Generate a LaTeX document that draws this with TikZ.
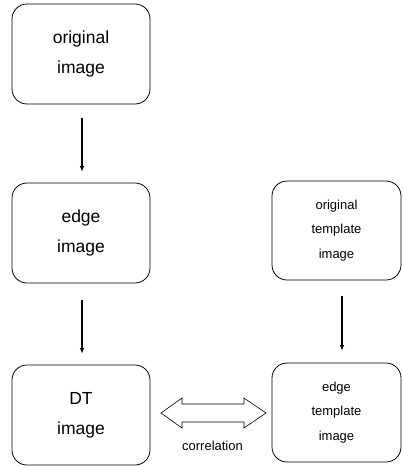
\documentclass[tikz,border=0pt]{standalone}
\usepackage{fontspec}
\setmainfont{Liberation Sans}
\usetikzlibrary{arrows.meta}
\begin{document}
\begin{tikzpicture}[x=1pt,y=-1pt,
  box/.style={draw, line width=0.8pt, rounded corners=15pt, align=center, inner sep=0pt},
  bigbox/.style={box, minimum width=138pt, minimum height=100pt, font=\fontsize{17.5}{30}\selectfont},
  smallbox/.style={box, minimum width=129pt, minimum height=99pt, font=\fontsize{13}{24.5}\selectfont},
  flow/.style={-{Latex[length=6pt,width=4.5pt]}, line width=1.1pt}]
\useasboundingbox (0,0) rectangle (403,466);
\node[bigbox] (orig) at (81,54) {original\\image};
\node[bigbox] (edge) at (81,233) {edge\\image};
\node[bigbox] (dt) at (81,415) {DT\\image};
\node[smallbox] (otmp) at (336.5,230.5) {original\\template\\image};
\node[smallbox] (etmp) at (336.5,412.5) {edge\\template\\image};
\coordinate (a1s) at (82,118); \coordinate (a1e) at (82,172);
\coordinate (a2s) at (82,300); \coordinate (a2e) at (82,354);
\coordinate (a3s) at (342,296); \coordinate (a3e) at (342,351);
\draw[flow] (a1s) -- (a1e);
\draw[flow] (a2s) -- (a2e);
\draw[flow] (a3s) -- (a3e);
\coordinate (L) at (161,413);
\coordinate (R) at (266,413);
\draw[line width=0.6pt] (L) -- ++(21,-15) -- ++(0,6) -- (244,404) -- ++(0,-6) -- (R)
  -- (244,428) -- ++(0,-6) -- (182,422) -- ++(0,6) -- cycle;
\node[font=\fontsize{13}{15}\selectfont] (corr) at (212.5,446) {correlation};
\end{tikzpicture}
\end{document}
